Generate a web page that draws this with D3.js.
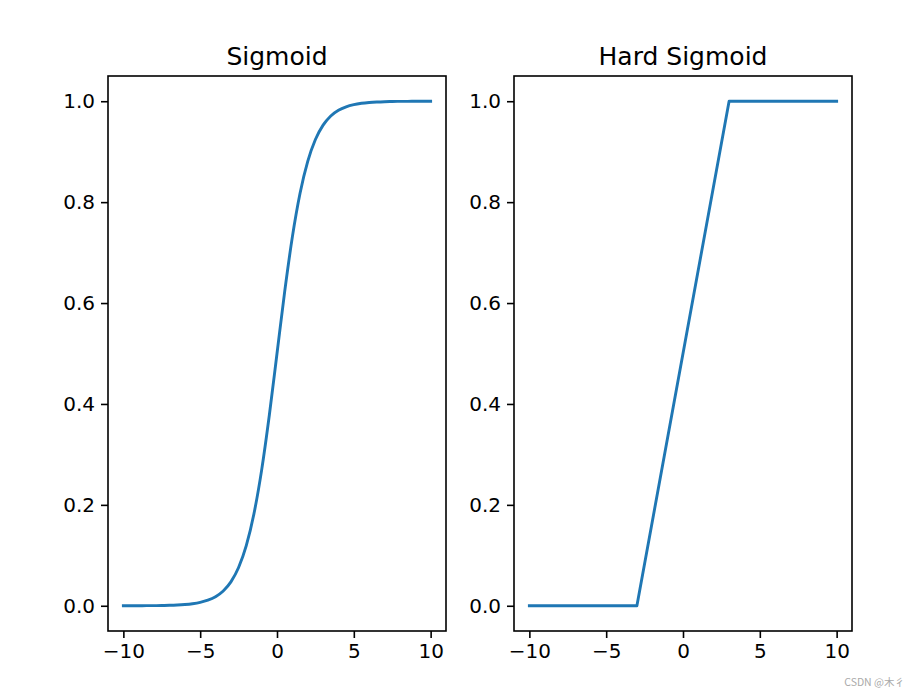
<!DOCTYPE html>
<html><head><meta charset="utf-8">
<script src="https://cdn.jsdelivr.net/npm/d3@7/dist/d3.min.js"></script>
<style>body{margin:0;background:#fff}svg{display:block}</style>
</head><body>
<script>
// ---- data ----
const titles = ["Sigmoid", "Hard Sigmoid"];
const sigmoidX = [-10,-9.5,-9,-8.5,-8,-7.5,-7,-6.5,-6,-5.5,-5,-4.5,-4,-3.5,-3,-2.5,-2,-1.5,-1,-0.5,0,0.5,1,1.5,2,2.5,3,3.5,4,4.5,5,5.5,6,6.5,7,7.5,8,8.5,9,9.5,10];
const sigmoidY = [0.0000,0.0001,0.0001,0.0002,0.0003,0.0006,0.0009,0.0015,0.0025,0.0041,0.0067,0.0110,0.0180,0.0293,0.0474,0.0759,0.1192,0.1824,0.2689,0.3775,0.5000,0.6225,0.7311,0.8176,0.8808,0.9241,0.9526,0.9707,0.9820,0.9890,0.9933,0.9959,0.9975,0.9985,0.9991,0.9994,0.9997,0.9998,0.9999,0.9999,1.0000];
const hardX = [-10,-3,3,10];
const hardY = [0,0,1,1];
const xTicks = [-10,-5,0,5,10];
const yTicks = [0.0,0.2,0.4,0.6,0.8,1.0];

const W = 924, H = 697;
const svg = d3.select("body").append("svg").attr("width", W).attr("height", H);
const font = "'DejaVu Sans', sans-serif";
const panels = [
  {left:108, xs:sigmoidX, ys:sigmoidY},
  {left:514, xs:hardX, ys:hardY}
];
const plotTop = 76, plotBottom = 631, pw = 338;

panels.forEach((p, i) => {
  const x = d3.scaleLinear().domain([-11, 11]).range([p.left, p.left + pw]);
  const y = d3.scaleLinear().domain([-0.05, 1.05]).range([plotBottom, plotTop]);
  const g = svg.append("g");
  const pts = p.xs.map((v, k) => [v, p.ys[k]]);
  g.append("path").datum(pts)
    .attr("fill", "none").attr("stroke", "#1f77b4").attr("stroke-width", 2.9)
    .attr("stroke-linejoin", "round").attr("stroke-linecap", "square")
    .attr("d", d3.line().x(d => x(d[0])).y(d => y(d[1])).curve(i === 0 ? d3.curveMonotoneX : d3.curveLinear));

  const xa = g.append("g").attr("transform", `translate(0,${plotBottom})`)
    .call(d3.axisBottom(x).tickValues(xTicks).tickSize(7).tickPadding(6)
      .tickFormat(d => d < 0 ? "\u2212" + Math.abs(d) : String(d)));
  const ya = g.append("g").attr("transform", `translate(${p.left},0)`)
    .call(d3.axisLeft(y).tickValues(yTicks).tickSize(7).tickPadding(6).tickFormat(d3.format(".1f")));
  [xa, ya].forEach(a => {
    a.select(".domain").remove();
    a.selectAll(".tick line").attr("stroke", "#000").attr("stroke-width", 1.6);
    a.selectAll(".tick text").attr("font-family", font).attr("font-size", 20).attr("fill", "#000");
  });
  g.append("rect").attr("x", p.left).attr("y", plotTop).attr("width", pw).attr("height", plotBottom - plotTop)
    .attr("fill", "none").attr("stroke", "#000").attr("stroke-width", 1.6);
  g.append("text").attr("x", p.left + pw / 2).attr("y", 65).attr("text-anchor", "middle")
    .attr("font-family", font).attr("font-size", 25).attr("fill", "#000").text(titles[i]);
});

svg.append("text").attr("x", 905).attr("y", 686).attr("text-anchor", "end")
  .attr("font-family", "'Noto Sans CJK SC', 'Noto Sans', sans-serif").attr("font-size", 10.5)
  .attr("fill", "#aaa").text("CSDN @木彳");
</script>
</body></html>
